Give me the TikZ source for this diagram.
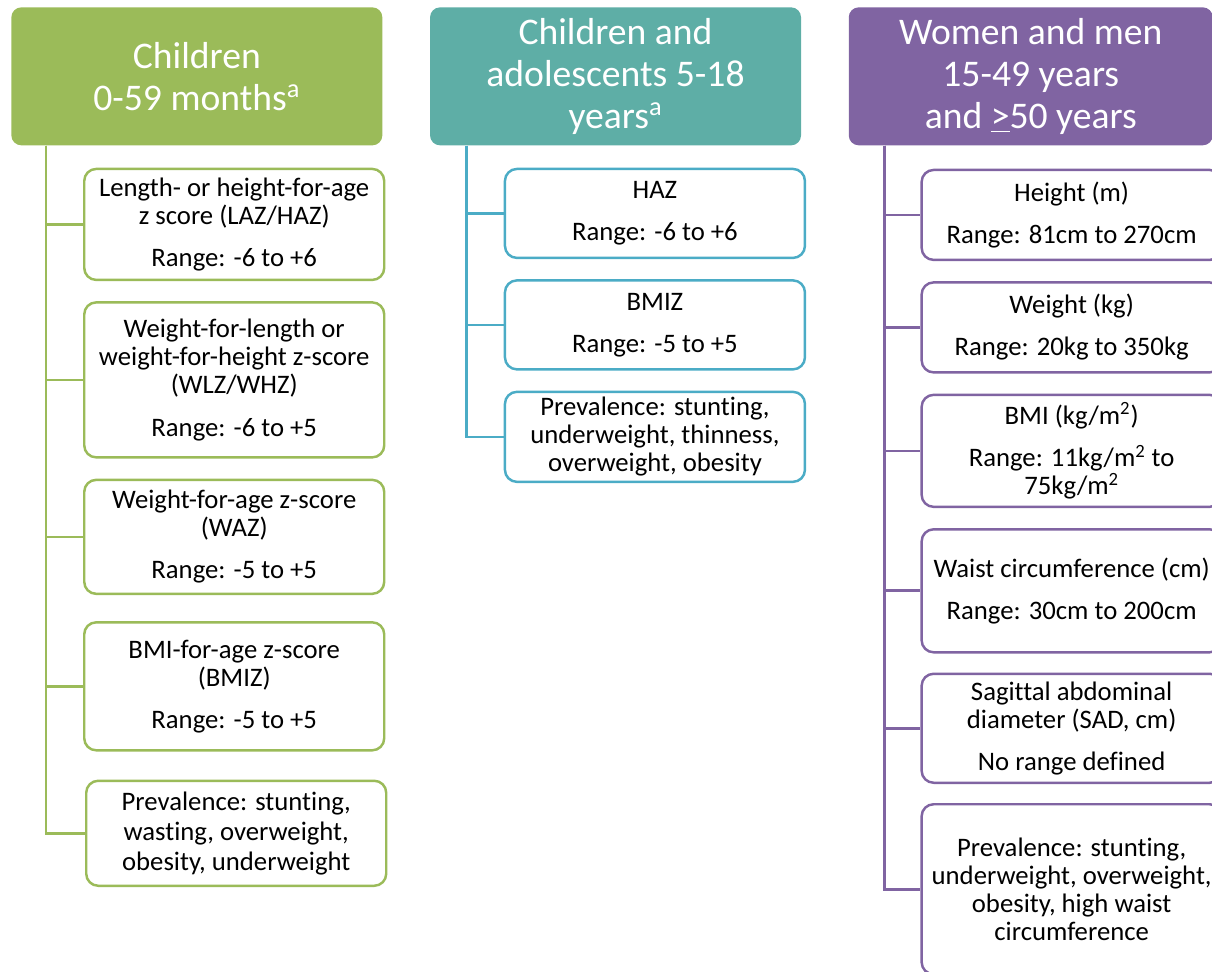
\documentclass[tikz,border=0pt]{standalone}
\usepackage{fontspec}
\setmainfont{Carlito}[RawFeature={-liga}]
\usepackage{xcolor}
\usetikzlibrary{positioning}
\definecolor{kidgreen}{HTML}{9BBB59}
\definecolor{teenteal}{HTML}{5EAEA6}
\definecolor{teenblue}{HTML}{4BACC6}
\definecolor{adultpurple}{HTML}{8064A2}
\tikzset{
    head/.style={rounded corners=0.2cm, minimum width=7.42cm, minimum height=2.76cm, inner sep=0pt, align=center, text=white, font=\fontsize{21.4}{24}\selectfont}, % coloured group header
    item/.style={draw=#1, line width=1.4pt, rounded corners=0.24cm, fill=white, minimum width=6cm, inner sep=0pt, align=center, font=\fontsize{15.2}{16}\selectfont}, % measure box
    link/.style={draw=#1, line width=1.5pt}, % tree connector
}

\begin{document}
\begin{tikzpicture}[node distance=0.4cm]
    \useasboundingbox (0,0) rectangle (24.24,-19.44);
    % Headers
    \node[head, fill=kidgreen, anchor=north west] (kids) at (0.22,-0.14) {Children\\0-59 months\textsuperscript{a}};
    \node[head, fill=teenteal, right=0.94cm of kids] (teens) {Children and\\adolescents 5-18\\years\textsuperscript{a}};
    \node[head, fill=adultpurple, right=0.94cm of teens, minimum width=7.28cm] (adults) {Women and men\\15-49 years\\and \underline{>}50 years};

    % Children 0-59 months
    \node[item=kidgreen, anchor=north west, minimum height=2.22cm] (k1) at ([shift={(1.44cm,-0.44cm)}]kids.south west) {Length- or height-for-age\\z score (LAZ/HAZ)\\[8pt]Range: -6 to +6};
    \node[item=kidgreen, minimum height=3.1cm, below=of k1] (k2) {Weight-for-length or\\weight-for-height z-score\\(WLZ/WHZ)\\[8pt]Range: -6 to +5};
    \node[item=kidgreen, minimum height=2.28cm, below=of k2] (k3) {Weight-for-age z-score\\(WAZ)\\[8pt]Range: -5 to +5};
    \node[item=kidgreen, minimum height=2.56cm, below=0.52cm of k3] (k4) {BMI-for-age z-score\\(BMIZ)\\[8pt]Range: -5 to +5};
    \node[item=kidgreen, minimum height=2.1cm, below=0.56cm of k4, xshift=0.04cm] (k5) {Prevalence: stunting,\\[1pt]wasting, overweight,\\[1pt]obesity, underweight};

    % Children and adolescents
    \node[item=teenblue, anchor=north west, minimum height=1.78cm] (t1) at ([shift={(1.48cm,-0.44cm)}]teens.south west) {HAZ\\[8pt]Range: -6 to +6};
    \node[item=teenblue, minimum height=1.78cm, below=of t1] (t2) {BMIZ\\[8pt]Range: -5 to +5};
    \node[item=teenblue, minimum height=1.8cm, below=of t2] (t3) {Prevalence: stunting,\\underweight, thinness,\\overweight, obesity};

    % Women and men
    \node[item=adultpurple, anchor=north west, minimum height=1.8cm] (a1) at ([shift={(1.44cm,-0.46cm)}]adults.south west) {Height (m)\\[8pt]Range: 81cm to 270cm};
    \node[item=adultpurple, minimum height=1.8cm, below=of a1] (a2) {Weight (kg)\\[8pt]Range: 20kg to 350kg};
    \node[item=adultpurple, minimum height=2.24cm, below=of a2] (a3) {BMI (kg/m\textsuperscript{2})\\[8pt]Range: 11kg/m\textsuperscript{2} to\\75kg/m\textsuperscript{2}};
    \node[item=adultpurple, minimum height=2.46cm, below=of a3] (a4) {Waist circumference (cm)\\[8pt]Range: 30cm to 200cm};
    \node[item=adultpurple, minimum height=2.18cm, below=0.38cm of a4] (a5) {Sagittal abdominal\\diameter (SAD, cm)\\[8pt]No range defined};
    \node[item=adultpurple, minimum height=3.4cm, below=0.38cm of a5] (a6) {Prevalence: stunting,\\underweight, overweight,\\obesity, high waist\\circumference};

    % Connectors
    \foreach \k in {k1,k2,k3,k4,k5}
        \draw[link=kidgreen] ([xshift=0.7cm]kids.south west) |- (\k.west);
    \foreach \t in {t1,t2,t3}
        \draw[link=teenblue] ([xshift=0.74cm]teens.south west) |- (\t.west);
    \foreach \a in {a1,a2,a3,a4,a5,a6}
        \draw[link=adultpurple] ([xshift=0.72cm]adults.south west) |- (\a.west);
\end{tikzpicture}
\end{document}
